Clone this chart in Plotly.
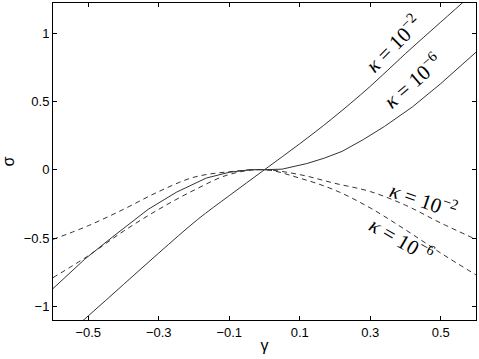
import plotly.graph_objects as go

# solid curves (kappa = 1e-2 and 1e-6)
x_solid_k2 = [-0.6, -0.5, -0.4, -0.3, -0.19, -0.1, 0.0, 0.1, 0.19, 0.3, 0.4, 0.5, 0.6]
y_solid_k2 = [-1.29, -1.07, -0.84, -0.61, -0.365, -0.19, 0.0, 0.19, 0.37, 0.61, 0.85, 1.08, 1.31]

x_solid_k6 = [-0.6, -0.51, -0.43, -0.33, -0.25, -0.165, -0.1, -0.04, 0.0, 0.05, 0.12, 0.17, 0.22, 0.28, 0.34, 0.42, 0.5, 0.6]
y_solid_k6 = [-0.87, -0.655, -0.49, -0.29, -0.165, -0.061, -0.019, 0.0, 0.0, 0.004, 0.045, 0.085, 0.134, 0.22, 0.316, 0.46, 0.63, 0.86]

# dashed curves
x_dash = [-0.6, -0.5, -0.4, -0.3, -0.2, -0.1, 0.0, 0.1, 0.2, 0.3, 0.4, 0.5, 0.6]
y_dash_k2 = [-0.51, -0.41, -0.29, -0.16, -0.055, -0.015, 0.0, -0.036, -0.10, -0.16, -0.26, -0.39, -0.51]
y_dash_k6 = [-0.79, -0.63, -0.45, -0.29, -0.15, -0.035, 0.0, -0.062, -0.15, -0.28, -0.44, -0.61, -0.77]

x_ticks = [-0.5, -0.3, -0.1, 0.1, 0.3, 0.5]
y_ticks = [-1, -0.5, 0, 0.5, 1]

# label text, anchor (data coords) and angle
labels = [
    ("<i>κ</i> = 10<sup>−2</sup>", 0.365, 0.92, -45),
    ("<i>κ</i> = 10<sup>−6</sup>", 0.42, 0.65, -41),
    ("<i>κ</i> = 10<sup>−2</sup>", 0.45, -0.22, 19),
    ("<i>κ</i> = 10<sup>−6</sup>", 0.39, -0.51, 30),
]

line_col = "#333333"
fig = go.Figure()
fig.add_trace(go.Scatter(x=x_solid_k2, y=y_solid_k2, mode="lines", line_shape="spline",
                         line=dict(color=line_col, width=1)))
fig.add_trace(go.Scatter(x=x_solid_k6, y=y_solid_k6, mode="lines",
                         line=dict(color=line_col, width=1)))
fig.add_trace(go.Scatter(x=x_dash, y=y_dash_k2, mode="lines", line_shape="spline",
                         line=dict(color=line_col, width=1, dash="5px,4px")))
fig.add_trace(go.Scatter(x=x_dash, y=y_dash_k6, mode="lines", line_shape="spline",
                         line=dict(color=line_col, width=1, dash="5px,4px")))

for txt, lx, ly, ang in labels:
    fig.add_annotation(x=lx, y=ly, text=txt, showarrow=False, textangle=ang,
                       font=dict(family="Liberation Serif", size=21, color="black"))

axis_common = dict(showgrid=False, zeroline=False, showline=True, linecolor="black",
                   linewidth=1, mirror="ticks", ticks="inside", ticklen=4,
                   tickcolor="black", tickfont=dict(family="Liberation Sans", size=13, color="black"))
fig.update_xaxes(range=[-0.6, 0.6], tickvals=x_ticks, ticktext=[f"{v:g}".replace("-", "−") for v in x_ticks],
                 title=dict(text="γ", font=dict(family="Liberation Sans", size=16, color="black"), standoff=1),
                 **axis_common)
fig.update_yaxes(range=[-1.1, 1.22], tickvals=y_ticks, ticktext=[f"{v:g}".replace("-", "−") for v in y_ticks],
                 title=dict(text="σ", font=dict(family="Liberation Sans", size=16, color="black"), standoff=10),
                 **axis_common)
fig.update_layout(width=479, height=359, showlegend=False,
                  margin=dict(l=53, r=3, t=3, b=39),
                  plot_bgcolor="white", paper_bgcolor="white")
# drop the default page margin so the figure sits at the window's corner
fig.write_html("out.html", config={"displayModeBar": False},
               post_script="document.body.style.margin='0';")
